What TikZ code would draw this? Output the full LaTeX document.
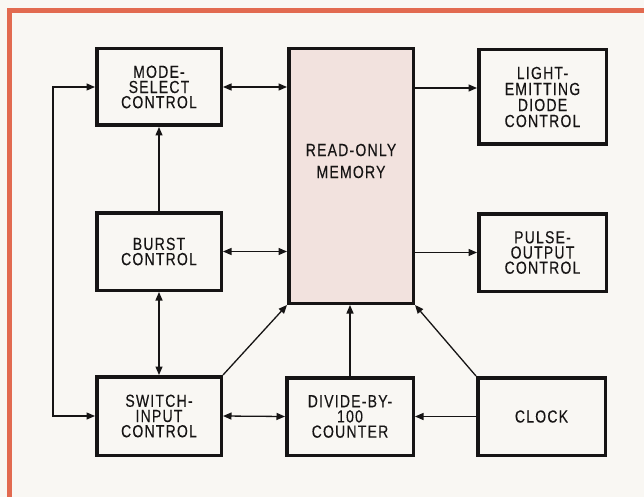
\documentclass[tikz,border=0pt]{standalone}
\usepackage{fontspec}
\setmainfont{Liberation Sans}[FakeStretch=0.8,LetterSpace=7,FakeBold=0.25]
\usetikzlibrary{arrows.meta}
\definecolor{bgpaper}{RGB}{249,247,243}
\definecolor{romfill}{RGB}{242,226,222}
\definecolor{frameorange}{RGB}{226,106,80}
\definecolor{inkblack}{RGB}{22,20,20}
\tikzset{
  blk/.style={draw=inkblack, line width=3.5pt, fill=bgpaper, align=center,
    text=inkblack, inner sep=0pt,
    font=\fontsize{17.5}{15.2}\selectfont},
  conn/.style={draw=inkblack, line width=1.3pt, -{Triangle[length=8.5pt,width=7pt]}},
  bconn/.style={draw=inkblack, line width=1.3pt, {Triangle[length=8.5pt,width=7pt]}-{Triangle[length=8.5pt,width=7pt]}},
}
\begin{document}
\begin{tikzpicture}[x=1pt,y=-1pt]
\fill[bgpaper] (0,0) rectangle (644,497);
\useasboundingbox (0,0) rectangle (644,497);
\draw[frameorange, line width=4.2pt] (9.5,497) -- (9.5,10.5) -- (644,10.5);

\node[blk, minimum width=124.5pt, minimum height=76.5pt] (mode) at (159,87) {MODE-\\SELECT\\CONTROL};
\node[blk, fill=romfill, minimum width=124.5pt, minimum height=254.5pt] (rom) at (351,176) {};
\node[align=center, text=inkblack, font=\fontsize{17.5}{22}\selectfont] (romtxt) at (351,161) {READ-ONLY\\MEMORY};
\node[blk, font=\fontsize{17.5}{16}\selectfont, minimum width=127.5pt, minimum height=94.5pt] (led) at (542.5,97) {LIGHT-\\EMITTING\\DIODE\\CONTROL};
\node[blk, minimum width=127.5pt, minimum height=77.5pt] (pulse) at (542.5,252.5) {PULSE-\\OUTPUT\\CONTROL};
\node[blk, minimum width=124.5pt, minimum height=77.5pt] (burst) at (159,251.5) {BURST\\CONTROL};
\node[blk, minimum width=124.5pt, minimum height=78.5pt] (switch) at (159,416) {SWITCH-\\INPUT\\CONTROL};
\node[blk, minimum width=126.5pt, minimum height=77.5pt] (divide) at (350,416.5) {DIVIDE-BY-\\100\\COUNTER};
\node[blk, minimum width=127.5pt, minimum height=77.5pt] (clock) at (541.5,416.5) {CLOCK};

\coordinate (loopx) at (53,250);

\draw[bconn] (mode.east) -- (mode.east -| rom.west);
\draw[conn] (rom.east |- 0,88) -- (led.west |- 0,88);
\draw[bconn] (burst.east) -- (burst.east -| rom.west);
\draw[conn] (rom.east |- pulse.west) -- (pulse.west);
\draw[conn] (burst.north) -- (mode.south);
\draw[bconn] (burst.south) -- (switch.north);
\draw[bconn] (mode.west) -- (mode.west -| loopx) -- (switch.west -| loopx) -- (switch.west);
\draw[bconn] (switch.east) -- (divide.west);
\draw[conn] (clock.west) -- (clock.west -| divide.east);
\draw[conn] (switch.north east) -- (rom.south west);
\draw[conn] (divide.north) -- (divide.north |- rom.south);
\draw[conn] (clock.north west) -- (rom.south east);
\end{tikzpicture}
\end{document}
